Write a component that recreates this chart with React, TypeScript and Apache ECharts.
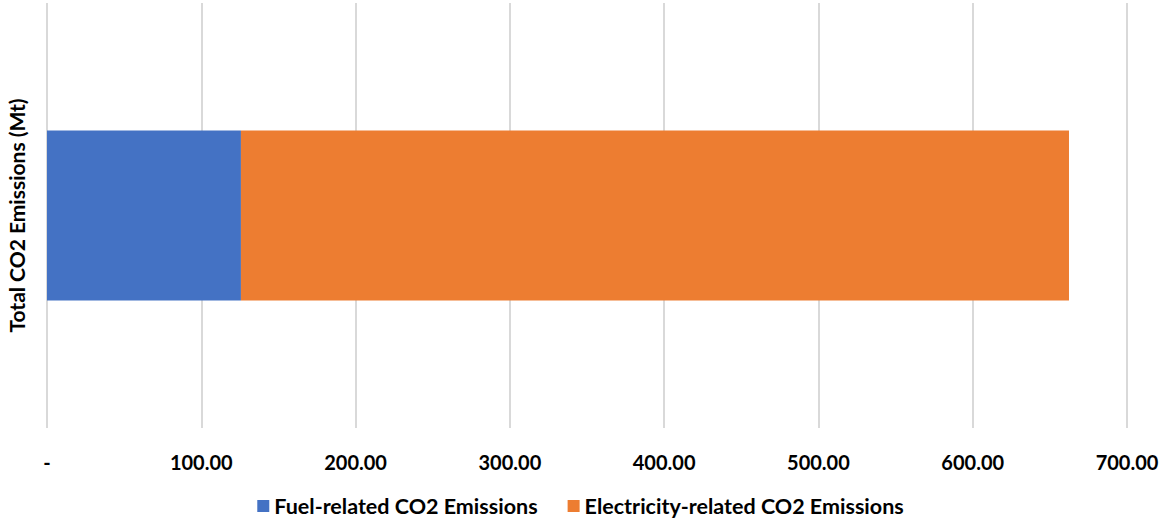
import React, { useEffect, useRef } from "react";
import * as echarts from "echarts";

const categories: string[] = [""];
const fuelRelated: number[] = [125.7];
const electricityRelated: number[] = [536.7];
const seriesNames: string[] = ["Fuel-related CO2 Emissions", "Electricity-related CO2 Emissions"];
const axisName = "Total CO2 Emissions (Mt)";

export default function App() {
  const ref = useRef<HTMLDivElement>(null);
  useEffect(() => {
    document.body.style.margin = "0";
    const chart = echarts.init(ref.current!, null, { renderer: "svg" });
    const font = "Lato, 'Open Sans', sans-serif";
    chart.setOption({
      animation: false,
      textStyle: { fontFamily: font },
      grid: { left: 47, right: 34, top: 3, bottom: 94, containLabel: false, outerBoundsMode: "none" },
      legend: {
        bottom: 0,
        left: "center",
        itemWidth: 12,
        itemHeight: 12,
        itemGap: 30,
        icon: "rect",
        textStyle: { fontSize: 21.5, fontWeight: "bold", color: "#000", fontFamily: font },
        data: seriesNames,
      },
      xAxis: {
        type: "value",
        min: 0,
        max: 700,
        interval: 100,
        axisLine: { show: false },
        axisTick: { show: false },
        splitLine: { show: true, lineStyle: { color: "#d9d9d9", width: 2 } },
        axisLabel: {
          margin: 24,
          fontSize: 20,
          fontWeight: "bold",
          color: "#000",
          fontFamily: font,
          formatter: (v: number) => (v === 0 ? "-" : v.toFixed(2)),
        },
      },
      yAxis: {
        type: "category",
        data: categories,
        axisLine: { show: false },
        axisTick: { show: false },
        axisLabel: { show: false },
        name: axisName,
        nameLocation: "middle",
        nameRotate: 90,
        nameGap: 20,
        nameTextStyle: { fontSize: 21, fontWeight: "bold", color: "#000", fontFamily: font },
      },
      series: [
        {
          name: seriesNames[0],
          type: "bar",
          stack: "total",
          data: fuelRelated,
          itemStyle: { color: "#4472c4" },
          barCategoryGap: "60%",
        },
        {
          name: seriesNames[1],
          type: "bar",
          stack: "total",
          data: electricityRelated,
          itemStyle: { color: "#ed7d31" },
          barCategoryGap: "60%",
        },
      ],
    });
    return () => chart.dispose();
  }, []);
  return <div ref={ref} style={{ width: 1161, height: 522 }} />;
}
